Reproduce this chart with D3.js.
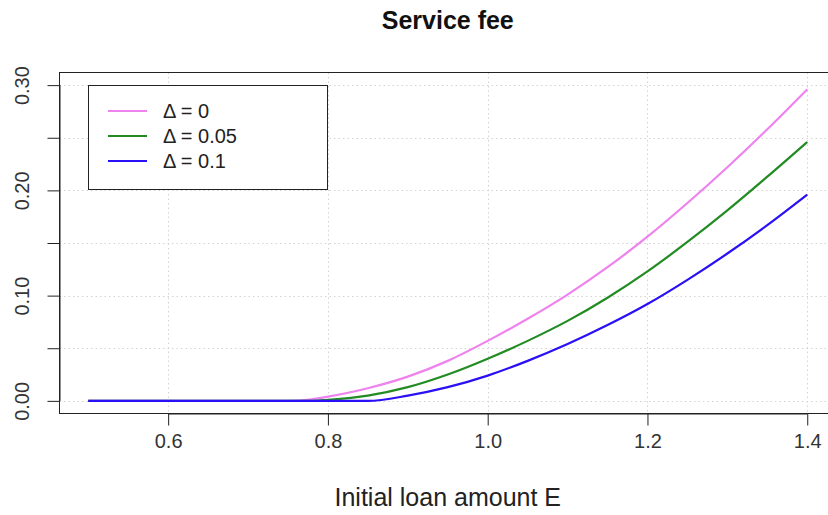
<!DOCTYPE html>
<html>
<head>
<meta charset="utf-8">
<script src="https://cdn.jsdelivr.net/npm/d3@7"></script>
<style>
  html, body { margin: 0; padding: 0; background: #fff; }
  svg { display: block; }
  text { font-family: "Liberation Sans", Arial, sans-serif; }
</style>
</head>
<body>
<svg id="chart" width="828" height="515"></svg>
<script>
// Loan amounts E (x) and the service fee for three values of Δ
const loanAmounts = [0.50, 0.55, 0.60, 0.65, 0.70, 0.75, 0.78, 0.80, 0.85, 0.90, 0.95, 1.00, 1.05, 1.10, 1.15, 1.20, 1.25, 1.30, 1.35, 1.40];
const feeDelta0   = [0, 0, 0, 0, 0, 0, 0.0015, 0.004, 0.012, 0.023, 0.038, 0.057, 0.078, 0.101, 0.127, 0.156, 0.188, 0.222, 0.258, 0.296];
const feeDelta005 = [0, 0, 0, 0, 0, 0, 0, 0.001, 0.005, 0.013, 0.025, 0.040, 0.057, 0.076, 0.098, 0.123, 0.151, 0.181, 0.213, 0.246];
const feeDelta01  = [0, 0, 0, 0, 0, 0, 0, 0, 0, 0.005, 0.013, 0.024, 0.038, 0.054, 0.072, 0.092, 0.115, 0.140, 0.167, 0.196];

const seriesNames = ["Δ = 0", "Δ = 0.05", "Δ = 0.1"];
const seriesColors = ["#ee82ee", "#228b22", "#2a10f5"];

const xTicks = [0.6, 0.8, 1.0, 1.2, 1.4];
const yTicks = [0, 0.05, 0.10, 0.15, 0.20, 0.25, 0.30];
const yLabelled = [0, 0.10, 0.20, 0.30];

const xLimits = [0.464, 1.436];
const yLimits = [-0.012, 0.312];

const titleText = "Service fee";
const xTitle = "Initial loan amount E";

const svg = d3.select("#chart");
const plot = { left: 59.5, right: 836, top: 72.5, bottom: 413.5 };

const x = d3.scaleLinear().domain(xLimits).range([plot.left, plot.right]);
const y = d3.scaleLinear().domain(yLimits).range([plot.bottom, plot.top]);

// dotted grid at the tick positions
const grid = svg.append("g").attr("stroke", "#d3d3d3").attr("stroke-width", 1)
  .attr("stroke-dasharray", "1.5,3");
grid.selectAll("line.v").data(xTicks).join("line")
  .attr("class", "v")
  .attr("x1", d => Math.round(x(d)) + 0.5).attr("x2", d => Math.round(x(d)) + 0.5)
  .attr("y1", plot.top).attr("y2", plot.bottom);
grid.selectAll("line.h").data(yTicks).join("line")
  .attr("class", "h")
  .attr("y1", d => Math.round(y(d)) + 0.5).attr("y2", d => Math.round(y(d)) + 0.5)
  .attr("x1", plot.left).attr("x2", plot.right);

// curves
const series = [feeDelta0, feeDelta005, feeDelta01];
const line = d3.line()
  .x((d, i) => x(loanAmounts[i]))
  .y(d => y(d))
  .curve(d3.curveMonotoneX);

svg.append("g").selectAll("path").data(series).join("path")
  .attr("d", d => line(d))
  .attr("fill", "none")
  .attr("stroke", (d, i) => seriesColors[i])
  .attr("stroke-width", 2.2)
  .attr("stroke-linejoin", "round");

// plot frame
svg.append("rect")
  .attr("x", plot.left).attr("y", plot.top)
  .attr("width", plot.right - plot.left).attr("height", plot.bottom - plot.top)
  .attr("fill", "none").attr("stroke", "#222").attr("stroke-width", 1);

// x axis
const xAxis = d3.axisBottom(x).tickValues(xTicks).tickSize(12).tickPadding(8)
  .tickFormat(d3.format(".1f"));
const gx = svg.append("g").attr("transform", `translate(0,${plot.bottom})`).call(xAxis);
gx.select(".domain").attr("d", `M${x(xTicks[0])},0.5H${x(xTicks[xTicks.length - 1])}`).attr("stroke", "#222");
gx.selectAll(".tick line").attr("stroke", "#222");
gx.selectAll(".tick text").attr("font-size", 20).attr("fill", "#333")
  .attr("font-family", "'Liberation Sans', Arial, sans-serif");

// y axis
const yAxis = d3.axisLeft(y).tickValues(yTicks).tickSize(12)
  .tickFormat(d => yLabelled.some(v => Math.abs(v - d) < 1e-9) ? d3.format(".2f")(d) : "");
const gy = svg.append("g").attr("transform", `translate(${plot.left},0)`).call(yAxis);
gy.select(".domain").attr("d", `M0.5,${y(yTicks[0])}V${y(yTicks[yTicks.length - 1])}`).attr("stroke", "#222");
gy.selectAll(".tick line").attr("stroke", "#222");
gy.selectAll(".tick text")
  .attr("font-size", 20).attr("fill", "#333")
  .attr("font-family", "'Liberation Sans', Arial, sans-serif")
  .attr("text-anchor", "middle")
  .attr("dy", null)
  .attr("x", null)
  .attr("transform", "translate(-38,0) rotate(-90)")
  .attr("dominant-baseline", "central");

// title and axis title
svg.append("text")
  .attr("x", (plot.left + plot.right) / 2).attr("y", 29)
  .attr("text-anchor", "middle").attr("font-size", 25).attr("font-weight", "bold")
  .attr("fill", "#111").text(titleText);

svg.append("text")
  .attr("x", (plot.left + plot.right) / 2).attr("y", 506)
  .attr("text-anchor", "middle").attr("font-size", 25)
  .attr("fill", "#222").text(xTitle);

// legend
const legend = svg.append("g");
legend.append("rect")
  .attr("x", 88.5).attr("y", 85.5).attr("width", 239).attr("height", 104)
  .attr("fill", "#fff").attr("stroke", "#222").attr("stroke-width", 1);
const rows = legend.selectAll("g.row").data(seriesNames).join("g")
  .attr("class", "row")
  .attr("transform", (d, i) => `translate(0,${111 + i * 25})`);
rows.append("line")
  .attr("x1", 108).attr("x2", 147).attr("y1", 0).attr("y2", 0)
  .attr("stroke", (d, i) => seriesColors[i]).attr("stroke-width", 2.2);
rows.append("text")
  .attr("x", 163).attr("y", 0).attr("dominant-baseline", "central")
  .attr("font-size", 20).attr("fill", "#222").text(d => d);
</script>
</body>
</html>
